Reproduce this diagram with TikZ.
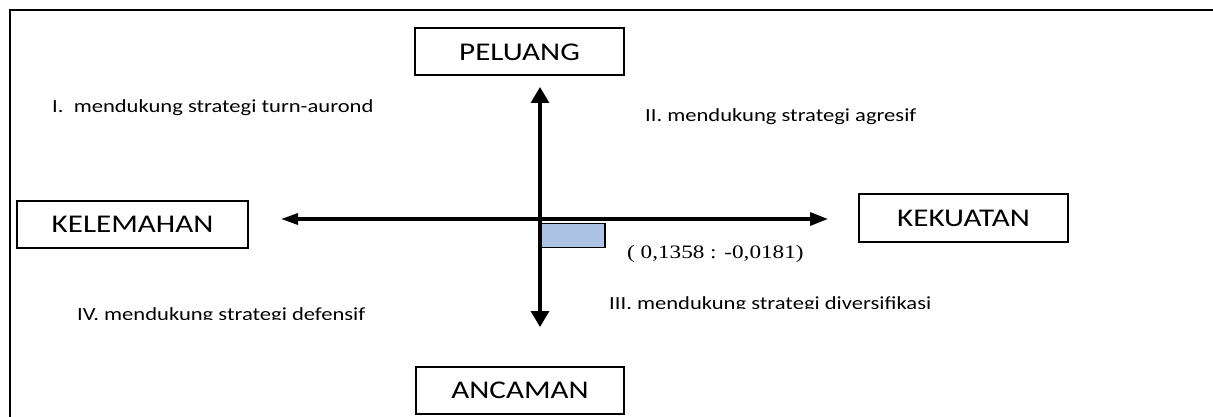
\documentclass[tikz,border=0pt]{standalone}
\usepackage{fontspec}
\usetikzlibrary{arrows.meta}
\newfontfamily\calfont[FakeStretch=1.22]{Carlito}
\newfontfamily\tmsfont[FakeStretch=1.22]{Liberation Serif}
\definecolor{pointblue}{RGB}{172,195,230}
\tikzset{
  labelbox/.style={draw=black, line width=2pt, minimum width=#1, minimum height=47pt, inner sep=0pt,
    font=\calfont\fontsize{25.5}{28}\selectfont},
  quadtext/.style={anchor=base west, inner sep=0pt, font=\calfont\fontsize{18.5}{22}\selectfont},
  axis/.style={line width=3.2pt},
  frameline/.style={line width=2.8pt}
}
\begin{document}
\begin{tikzpicture}[x=1pt,y=-1pt]
\useasboundingbox (0,0) rectangle (1213,417);
% frame
\coordinate (f1) at (10,417);
\coordinate (f2) at (10,10);
\coordinate (f3) at (1213,10);
\draw[frameline] (f1) -- (f2) -- (f3);
% boxes
\node[labelbox=209pt, minimum height=47pt] (peluang) at (519.5,52) {PELUANG};
\node[labelbox=231pt] (kelemahan) at (132.5,224.5) {KELEMAHAN};
\node[labelbox=209pt, minimum height=48pt] (kekuatan) at (963.5,218) {KEKUATAN};
\node[labelbox=208pt] (ancaman) at (520,390.5) {ANCAMAN};
% axes
\coordinate (top) at (540,87);
\coordinate (bot) at (540,327);
\coordinate (lft) at (281,219);
\coordinate (rgt) at (828,219);
% shaded point rectangle
\coordinate (r1) at (540,223.5);
\coordinate (r2) at (605,223.5);
\coordinate (r3) at (605,247.5);
\coordinate (r4) at (540,247.5);
\fill[fill=pointblue] (r1) rectangle (r3);
\draw[line width=1.8pt] (r1) -- (r2) -- (r3) -- (r4);
\draw[axis, {Triangle[width=18pt,length=16pt]}-{Triangle[width=18pt,length=16pt]}] (top) -- (bot);
\draw[axis, {Triangle[width=11pt,length=17pt]}-{Triangle[width=13pt,length=18pt]}] (lft) -- (rgt);
% quadrant texts
\node[quadtext] (q1) at (52,113) {I.\ \ mendukung strategi turn-aurond};
\node[quadtext] (q2) at (645,122) {II. mendukung strategi agresif};
\begin{scope}
\clip (600,280) rectangle (960,308.5);
\node[quadtext] (q3) at (609,309.5) {III. mendukung strategi diversifikasi};
\end{scope}
\begin{scope}
\clip (60,290) rectangle (400,319.5);
\node[quadtext] (q4) at (77,320.5) {IV. mendukung strategi defensif};
\end{scope}
\node[anchor=base west, inner sep=0pt, font=\tmsfont\fontsize{19}{22}\selectfont] (pt) at (627,258.5) {( 0,1358 : -0,0181)};
\end{tikzpicture}
\end{document}
